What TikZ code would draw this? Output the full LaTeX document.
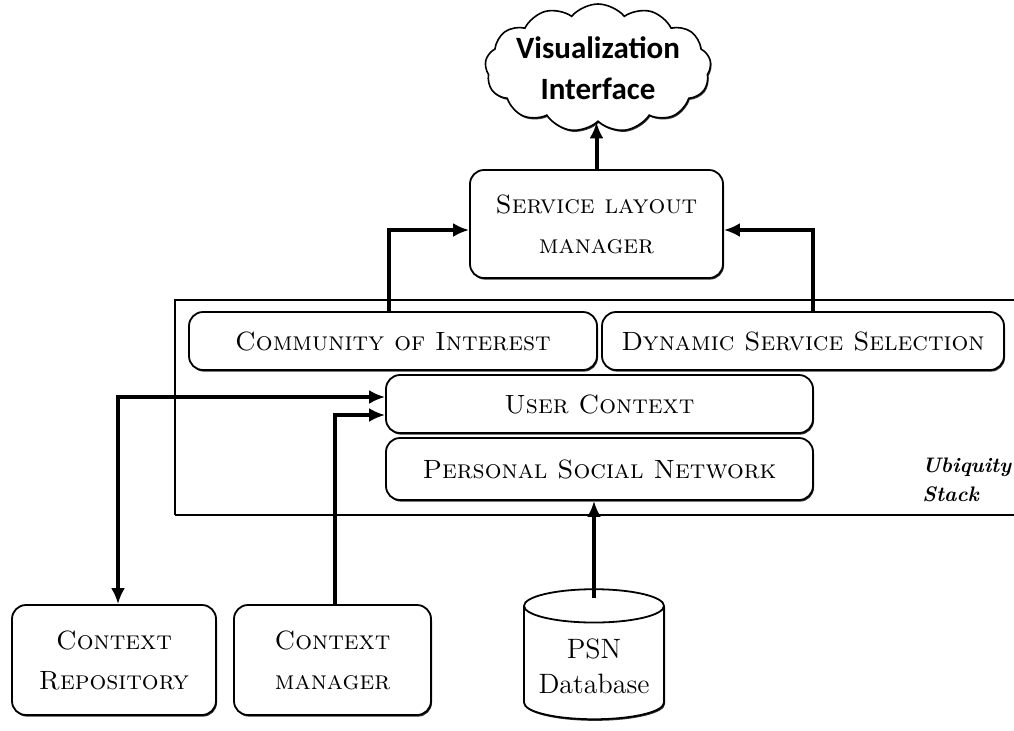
\documentclass[tikz,border=0pt]{standalone}
\usepackage{fontspec}
\newfontfamily\cloudfont{Carlito}
\usetikzlibrary{shapes.symbols,shapes.geometric,arrows.meta,shadows}
\tikzset{
  boxshadow/.style={drop shadow={shadow xshift=0.5pt,shadow yshift=-0.8pt,fill=black,opacity=0.8}},
  layerbox/.style={draw, line width=0.9pt, rounded corners=7pt, fill=white, align=center,
    inner sep=0pt, font=\fontsize{13.2}{20}\selectfont\scshape, boxshadow},
  flowarrow/.style={line width=2pt, -{Latex[length=8pt,width=7pt]}},
}
\begin{document}
\begin{tikzpicture}[x=0.5pt,y=-0.5pt]
  \useasboundingbox (0,0) rectangle (1014,730);

  % ubiquity stack frame
  \draw[line width=0.7pt] (1030,300) -- (175,300) -- (175,515);
  \draw[line width=1.4pt] (175,515) -- (1030,515);
  \node[anchor=west, align=left, inner sep=0pt, font=\fontsize{10.5}{14.5}\selectfont\bfseries\itshape]
    (stacklbl) at (922,480) {Ubiquity\\Stack};

  % nodes
  \node[draw, cloud, cloud puffs=13, cloud puff arc=100, cloud ignores aspect, line width=0.8pt, fill=white,
    minimum width=113pt, minimum height=64pt, inner sep=-8pt, align=center, boxshadow,
    font=\fontsize{15.5}{20.5}\selectfont\cloudfont\bfseries] (vis) at (598,68) {Visualization\\Interface};
  \node[layerbox, minimum width=126.5pt, minimum height=54pt] (slm) at (596.5,224) {Service layout\\manager};
  \node[layerbox, minimum width=204pt, minimum height=29pt] (coi) at (393,341) {Community of Interest};
  \node[layerbox, minimum width=201pt, minimum height=29pt] (dss) at (803,341) {Dynamic Service Selection};
  \node[layerbox, minimum width=213.5pt, minimum height=29pt] (uc) at (599.5,404) {User Context};
  \node[layerbox, minimum width=213.5pt, minimum height=31pt] (psn) at (599.5,469) {Personal Social Network};
  \node[layerbox, minimum width=102pt, minimum height=55pt] (crep) at (114,660) {Context\\Repository};
  \node[layerbox, minimum width=98.5pt, minimum height=55pt] (cman) at (332.5,660) {Context\\manager};
  \node[draw, cylinder, shape border rotate=90, aspect=0.3, line width=0.9pt, fill=white, boxshadow,
    minimum width=70pt, minimum height=65pt, inner sep=0pt, align=center,
    font=\fontsize{14}{17.5}\selectfont] (db) at (594,663) {\\[-4pt]PSN\\Database};

  % connectors
  \draw[flowarrow] (slm.north) -- (slm.north |- vis.south);
  \draw[flowarrow] ([xshift=-2pt]coi.north) |- ([yshift=-3pt]slm.west);
  \draw[flowarrow] ([xshift=5pt]dss.north) |- ([yshift=-3pt]slm.east);
  \draw[flowarrow] ([yshift=-5pt]db.north) -- (db.north |- psn.south);
  \draw[flowarrow, {Latex[length=8pt,width=7pt]}-{Latex[length=8pt,width=7pt]}]
    ([yshift=3.5pt]uc.west) -| ([xshift=2pt]crep.north);
  \draw[flowarrow] ([xshift=1.25pt]cman.north) |- ([yshift=-5.5pt]uc.west);
\end{tikzpicture}
\end{document}
